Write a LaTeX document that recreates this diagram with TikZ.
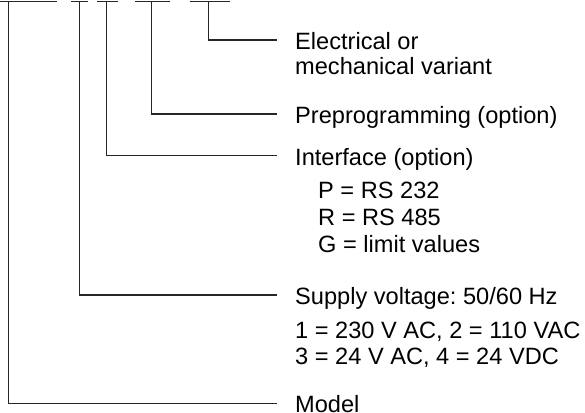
\documentclass[tikz,border=0pt]{standalone}
\usepackage{fontspec}
\setmainfont{Liberation Sans}
\frenchspacing
\begin{document}
\begin{tikzpicture}[x=1pt,y=-1pt,
  wire/.style={line width=1.2pt, draw=black!85},
  lab/.style={anchor=base west, inner sep=0pt, font=\fontsize{23.6}{26}\selectfont}]
\useasboundingbox (0,0) rectangle (585,412);
% top bars (digit positions)
\coordinate (b1l) at (0,1.5);   \coordinate (b1r) at (57,1.5);
\coordinate (b2l) at (71,1.5);  \coordinate (b2r) at (88,1.5);
\coordinate (b3l) at (97,1.5);  \coordinate (b3r) at (118,1.5);
\coordinate (b4l) at (135,1.5); \coordinate (b4r) at (170,1.5);
\coordinate (b5l) at (190,1.5); \coordinate (b5r) at (230,1.5);
\draw[wire] (b1l) -- (b1r);
\draw[wire] (b2l) -- (b2r);
\draw[wire] (b3l) -- (b3r);
\draw[wire] (b4l) -- (b4r);
\draw[wire] (b5l) -- (b5r);
% vertical start points
\coordinate (t1) at (8.3,1.5);
\coordinate (t2) at (79.3,1.5);
\coordinate (t3) at (106.7,1.5);
\coordinate (t4) at (151.7,1.5);
\coordinate (t5) at (208.7,1.5);
% labels
\node[lab] (elec1) at (295,49.5) {Electrical or};
\node[lab] (elec2) at (295,74.5) {mechanical variant};
\node[lab] (prep)  at (295,123.5) {Preprogramming (option)};
\node[lab] (intf)  at (295,165.5) {Interface (option)};
\node[lab] (ip)    at (318,198.5) {P = RS 232};
\node[lab] (ir)    at (318,225) {R = RS 485};
\node[lab] (ig)    at (318,252) {G = limit values};
\node[lab] (sup)   at (295,304.5) {Supply voltage: 50/60 Hz};
\node[lab] (s1)    at (295,338.5) {1 = 230 V AC, 2 = 110 VAC};
\node[lab] (s3)    at (295,364) {3 = 24 V AC, 4 = 24 VDC};
\node[lab] (model) at (295,412.5) {Model};
% connector ends
\coordinate (e5) at ([shift={(-18,-9.5)}]elec1.base west);
\coordinate (e4) at ([shift={(-18,-9.5)}]prep.base west);
\coordinate (e3) at ([shift={(-18,-10)}]intf.base west);
\coordinate (e2) at ([shift={(-18,-9.5)}]sup.base west);
\coordinate (e1) at ([shift={(-18,-9.2)}]model.base west);
\draw[wire] (t5) |- (e5);
\draw[wire] (t4) |- (e4);
\draw[wire] (t3) |- (e3);
\draw[wire] (t2) |- (e2);
\draw[wire] (t1) |- (e1);
\end{tikzpicture}
\end{document}
